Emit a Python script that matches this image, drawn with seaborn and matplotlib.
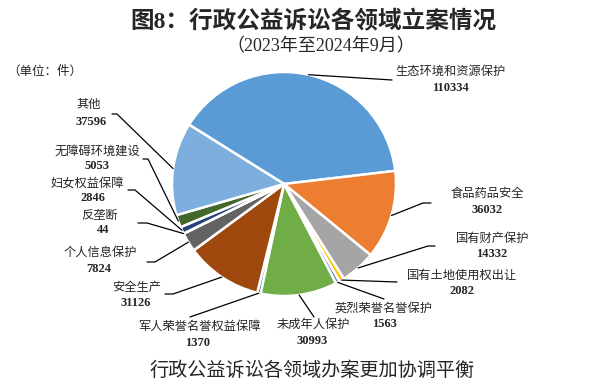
import numpy as np
import matplotlib.pyplot as plt
from matplotlib.lines import Line2D
import seaborn as sns

categories = ['生态环境和资源保护', '食品药品安全', '国有财产保护', '国有土地使用权出让',
              '英烈荣誉名誉保护', '未成年人保护', '军人荣誉名誉权益保障', '安全生产',
              '个人信息保护', '反垄断', '妇女权益保障', '无障碍环境建设', '其他']
cases = [110334, 36032, 14332, 2082, 1563, 30993, 1370, 31126, 7824, 44, 2846, 5053, 37596]
colors = ['#5B9BD5', '#ED7D31', '#A5A5A5', '#FFC000', '#4472C4', '#70AD47',
          '#255E91', '#9E480E', '#636363', '#997300', '#264478', '#43682B', '#7CAFDD']

# label layout in pixels from top-left: leader points after the wedge, name centre, number centre
label_layout = [
    ([(392, 80)], (450, 72), (450, 88)),
    ([(423, 203), (431, 203)], (487, 194), (487, 210)),
    ([(428, 246), (435, 246)], (493, 239), (492, 254)),
    ([(397, 282)], (462, 276), (462, 291)),
    ([(384, 299)], (384, 309), (384, 324)),
    ([(314, 317)], (313, 325), (312, 341)),
    ([(190, 317)], (199, 327), (198, 343)),
    ([(173, 294), (165, 294)], (137, 288), (136, 303)),
    ([(155, 262), (147, 262)], (100, 253), (99, 269)),
    ([(147, 223), (138, 223)], (100, 216), (103, 230)),
    ([(135, 190), (128, 190)], (87, 184), (93, 198)),
    ([(148, 159), (143, 159)], (97, 152), (97, 166)),
    ([(117, 114), (112, 114)], (89, 105), (91, 122)),
]

sns.set_theme(style='white')
plt.rcParams['font.family'] = ['Liberation Serif', 'Noto Sans CJK SC']

W, H = 598, 388
fig = plt.figure(figsize=(W / 100, H / 100), dpi=100)


def fpos(x, y):
    return (x / W, 1 - y / H)


# pie placed by pixel centre and radius
cx, cy, r = 284, 184, 112
ax = fig.add_axes([(cx - r) / W, 1 - (cy + r) / H, 2 * r / W, 2 * r / H])
wedges, _ = ax.pie(cases, colors=colors, startangle=148, counterclock=False, radius=1,
                   wedgeprops=dict(edgecolor='white', linewidth=1.8))
ax.set_xlim(-1, 1)
ax.set_ylim(-1, 1)
ax.set_aspect('equal')
ax.axis('off')

to_fig = fig.transFigure.inverted()
for w, name, n, (pts, name_xy, num_xy) in zip(wedges, categories, cases, label_layout):
    theta = np.deg2rad((w.theta1 + w.theta2) / 2)
    anchor = to_fig.transform(ax.transData.transform((np.cos(theta), np.sin(theta))))
    path = [tuple(anchor)] + [fpos(*p) for p in pts]
    xs, ys = zip(*path)
    fig.add_artist(Line2D(xs, ys, transform=fig.transFigure, color='black', lw=0.9))
    fig.text(*fpos(*name_xy), name, ha='center', va='center', fontsize=8.8)
    fig.text(*fpos(*num_xy), str(n), ha='center', va='center', fontsize=9, fontweight='bold')

fig.text(*fpos(313, 22), '图8：行政公益诉讼各领域立案情况', ha='center', va='center',
         fontsize=17, fontweight='bold')
fig.text(*fpos(321, 47), '（2023年至2024年9月）', ha='center', va='center', fontsize=13)
fig.text(*fpos(45, 72), '（单位：件）', ha='center', va='center', fontsize=9)
fig.text(*fpos(312, 371), '行政公益诉讼各领域办案更加协调平衡', ha='center', va='center',
         fontsize=13.8)

fig.savefig('out.png', dpi=100, facecolor='white')
